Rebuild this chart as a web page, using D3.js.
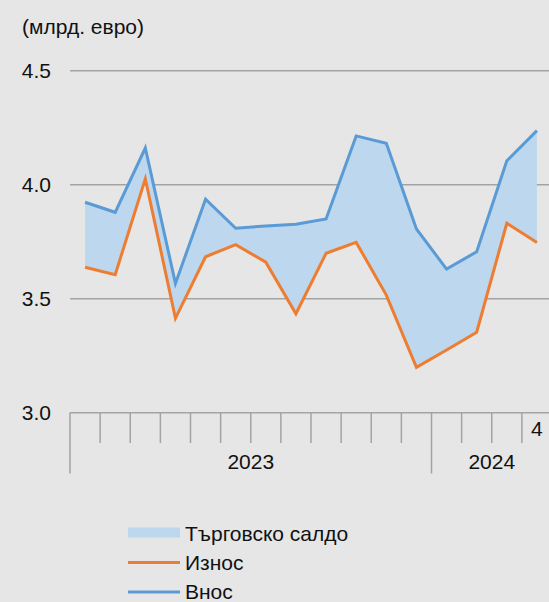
<!DOCTYPE html>
<html><head><meta charset="utf-8">
<script src="https://cdn.jsdelivr.net/npm/d3@7"></script>
<style>
html,body{margin:0;padding:0;background:#E6E6E6;}
svg{display:block;font-family:"Liberation Sans",Arial,sans-serif;}
</style></head>
<body><svg id="c" width="549" height="602"></svg>
<script>
const months = ["1","2","3","4","5","6","7","8","9","10","11","12","1","2","3","4"];
const years = ["2023","2024"];
const yearMonthCounts = [12, 4];
const imports = [3.923,3.879,4.161,3.567,3.936,3.809,3.819,3.827,3.850,4.214,4.182,3.806,3.630,3.706,4.105,4.237];
const exports = [3.638,3.605,4.026,3.414,3.684,3.737,3.660,3.434,3.699,3.747,3.516,3.199,3.275,3.353,3.831,3.746];
const yTicks = [3.0,3.5,4.0,4.5];
const unitLabel = "(млрд. евро)";
const legendLabels = ["Търговско салдо","Износ","Внос"];

const svg = d3.select("#c");
const fs = 21;
const axisColor = "#A3A3A3";
const y = d3.scaleLinear().domain([3.0,4.5]).range([412.7,70.7]);
const x = d3.scaleBand().domain(d3.range(months.length)).range([70,552]);
const cx = i => x(i) + x.bandwidth()/2;

// gridlines
svg.append("g").selectAll("line").data(yTicks.slice(1)).join("line")
  .attr("x1",70).attr("x2",549).attr("y1",d=>y(d)).attr("y2",d=>y(d))
  .attr("stroke",axisColor).attr("stroke-width",1.5);
// y labels
svg.append("g").selectAll("text").data(yTicks).join("text")
  .attr("x",51).attr("y",d=>y(d)+7.5).attr("text-anchor","end")
  .attr("font-size",fs).attr("fill","#111").text(d=>d.toFixed(1));
svg.append("text").attr("x",22).attr("y",34).attr("font-size",fs).attr("fill","#111").text(unitLabel);

// area and lines
const area = d3.area().x((d,i)=>cx(i)).y0((d,i)=>y(exports[i])).y1(d=>y(d));
svg.append("path").datum(imports).attr("d",area).attr("fill","#BDD7EE");
const line = d3.line().x((d,i)=>cx(i)).y(d=>y(d));
svg.append("path").datum(exports).attr("d",line).attr("fill","none").attr("stroke","#ED7D31").attr("stroke-width",3);
svg.append("path").datum(imports).attr("d",line).attr("fill","none").attr("stroke","#5B9BD5").attr("stroke-width",3);

// x axis
const ax = svg.append("g");
ax.append("line").attr("x1",70).attr("x2",549).attr("y1",y(3.0)).attr("y2",y(3.0)).attr("stroke",axisColor).attr("stroke-width",1.5);
const yearStarts = [0,12];
ax.selectAll("line.t").data(d3.range(months.length)).join("line").attr("class","t")
  .attr("x1",i=>x(i)).attr("x2",i=>x(i)).attr("y1",y(3.0))
  .attr("y2",i=>yearStarts.includes(i)?473.5:443)
  .attr("stroke",axisColor).attr("stroke-width",1.5);
// month label: only last one is shown
ax.append("text").attr("x",cx(15)).attr("y",436)
  .attr("text-anchor","middle").attr("font-size",fs).attr("fill","#111").text(months[15]);
let acc=0;
years.forEach((yr,k)=>{
  const s=x(acc), e=x(acc+yearMonthCounts[k]-1)+x.bandwidth();
  ax.append("text").attr("x",(s+e)/2).attr("y",468.5).attr("text-anchor","middle")
    .attr("font-size",fs).attr("fill","#111").text(yr);
  acc+=yearMonthCounts[k];
});

// legend
const lg = svg.append("g");
lg.append("rect").attr("x",128).attr("y",527.5).attr("width",52).attr("height",10).attr("fill","#BDD7EE");
lg.append("line").attr("x1",128).attr("x2",180).attr("y1",562.5).attr("y2",562.5).attr("stroke","#ED7D31").attr("stroke-width",3);
lg.append("line").attr("x1",128).attr("x2",180).attr("y1",592).attr("y2",592).attr("stroke","#5B9BD5").attr("stroke-width",3);
[541,570,598.5].forEach((yy,i)=>{
  lg.append("text").attr("x",185).attr("y",yy).attr("font-size",fs).attr("fill","#111").text(legendLabels[i]);
});
</script></body></html>
